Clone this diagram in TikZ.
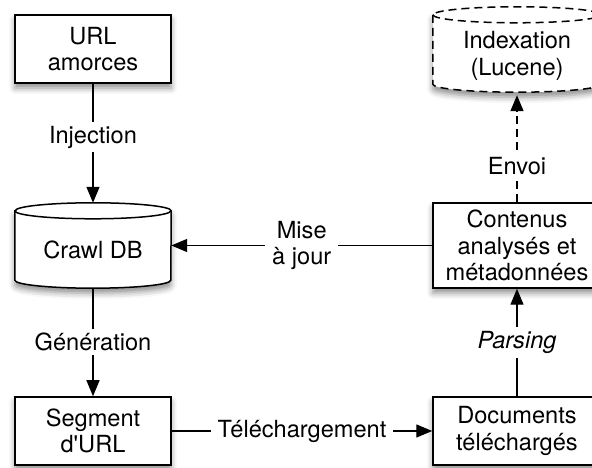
\documentclass[tikz,border=0pt]{standalone}
\usepackage{fontspec}
\setmainfont{TeX Gyre Heros}
\usetikzlibrary{arrows.meta,shadows.blur,backgrounds}
\newcommand\lblfont{\fontsize{23.6}{26.5}\selectfont}
\tikzset{
  shad/.style={blur shadow={shadow xshift=0pt, shadow yshift=-5pt, shadow blur radius=6pt, shadow opacity=45}},
  boxstyle/.style={draw, fill=white, line width=1.5pt, minimum width=156pt, minimum height=68pt,
    align=center, font=\lblfont, inner sep=0pt, shad},
  cylgeom/.style={minimum height=85pt, inner sep=0pt},
  cylstyle/.style={draw, fill=white, line width=1.5pt, shad},
  lbl/.style={font=\lblfont, align=center, inner sep=0pt},
  conn/.style={line width=1.4pt, -{Triangle[length=16pt,width=13pt]}},
  elabel/.style={fill=white, font=\lblfont, align=center, inner xsep=7pt, inner ysep=4pt},
  dashpat/.style={dash pattern=on 8pt off 5pt},
}
\begin{document}
\begin{tikzpicture}[x=1pt,y=1pt]
\clip (0,0) rectangle (592,468);
% boxes
\node[boxstyle] (url) at (93,419) {URL\\amorces};
\node[boxstyle] (seg) at (93,37) {Segment\\d\textquotesingle URL};
\node[boxstyle, minimum width=168pt] (docs) at (517,37) {Documents\\téléchargés};
\node[boxstyle, minimum width=168pt, minimum height=85pt] (cont) at (517,222.5) {Contenus\\analysés et\\métadonnées};
% cylinders
\node[cylgeom, minimum width=156pt] (crawl) at (93,222.5) {};
\node[cylgeom, minimum width=168pt] (idx) at (517,418.5) {};
\begin{scope}[on background layer]
\draw[cylstyle] ([yshift=-8pt]crawl.north west) -- ([yshift=8pt]crawl.south west)
  arc[start angle=180, end angle=360, x radius=78pt, y radius=8pt]
  -- ([yshift=-8pt]crawl.north east)
  arc[start angle=0, end angle=180, x radius=78pt, y radius=8pt] -- cycle;
\draw[line width=1.5pt] ([yshift=-8pt]crawl.north west)
  arc[start angle=180, end angle=360, x radius=78pt, y radius=8pt];
\draw[cylstyle, dashpat] ([yshift=-8pt]idx.north west) -- ([yshift=8pt]idx.south west)
  arc[start angle=180, end angle=360, x radius=84pt, y radius=8pt]
  -- ([yshift=-8pt]idx.north east)
  arc[start angle=0, end angle=180, x radius=84pt, y radius=8pt] -- cycle;
\draw[line width=1.5pt, dashpat] ([yshift=-8pt]idx.north west)
  arc[start angle=180, end angle=360, x radius=84pt, y radius=8pt];
\end{scope}
\node[lbl] (crawltxt) at (93,218) {Crawl DB};
\node[lbl] (idxtxt) at (517,412) {Indexation\\(Lucene)};
% connectors
\draw[conn] (url.south) -- node[elabel, pos=0.45] {Injection} (crawl.north);
\draw[conn] (crawl.south) -- node[elabel] {Génération} (seg.north);
\draw[conn] (seg.east) -- node[elabel] {Téléchargement} (docs.west);
\draw[conn] (docs.north) -- node[elabel, font=\lblfont\itshape] {Parsing} (cont.south);
\draw[conn] (cont.west) -- node[elabel] {Mise\\à jour} (crawl.east);
\draw[conn, dashpat, shorten >=3pt] (cont.north) -- node[elabel, pos=0.33] {Envoi} (idx.south);
\end{tikzpicture}
\end{document}
